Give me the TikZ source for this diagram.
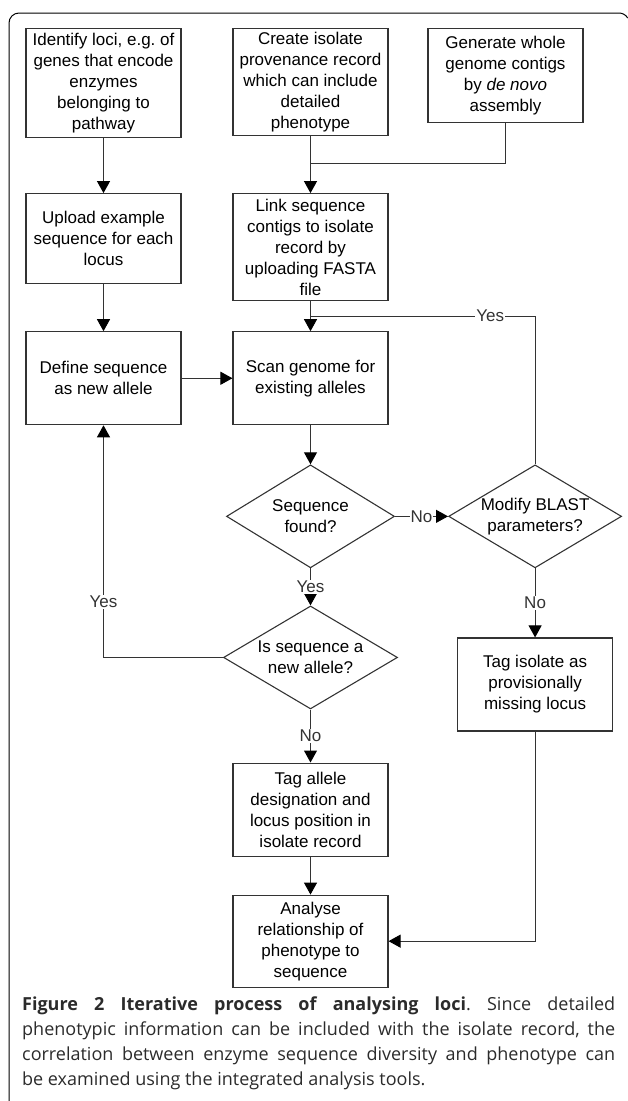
\documentclass[tikz,border=0pt]{standalone}
\usepackage{fontspec}
\setmainfont{Liberation Sans}
\newfontfamily\capfont{Open Sans}
\usetikzlibrary{arrows.meta,positioning,shapes.geometric,calc}
\definecolor{linegray}{HTML}{333333}
\definecolor{capgray}{HTML}{2B2B2B}
\frenchspacing
\tikzset{
  stepbox/.style={
    rectangle, draw=linegray, line width=1.1pt,
    minimum width=155pt, minimum height=#1,
    font=\fontsize{17}{21}\selectfont, align=center,
    inner sep=3pt
  },
  stepbox/.default=93pt,
  decision/.style={
    diamond, draw=linegray, line width=1.1pt, aspect=1.68,
    minimum width=#1, minimum height=103pt,
    font=\fontsize{17}{21}\selectfont, align=center,
    inner sep=0pt
  },
  decision/.default=173pt,
  flowarrow/.style={
    -{Triangle[length=12pt, width=13pt, color=black]}, line width=1pt, color=linegray
  },
  flowline/.style={
    line width=1pt, color=linegray
  },
  answer/.style={
    font=\fontsize{17}{21}\selectfont, fill=white, inner sep=1pt
  },
}

\begin{document}
\begin{tikzpicture}[x=1pt, y=1pt, node distance=40pt and 53pt]
  \useasboundingbox (0,0) rectangle (627,-1101);

  % frame of the figure
  \draw[line width=1pt] (9,-1101) -- (9,-23)
    arc[start angle=180, end angle=90, radius=10] -- (619,-13)
    arc[start angle=90, end angle=30, radius=10];

  % top row
  \node[stepbox=109pt, anchor=north] (identify) at (103.5,-28)
    {Identify loci, e.g. of\\genes that encode\\enzymes\\belonging to\\pathway};
  \node[stepbox=107pt, anchor=north] (create) at (310.5,-28)
    {Create isolate\\provenance record\\which can include\\detailed\\phenotype};
  \node[stepbox=94pt, anchor=north] (generate) at (505.5,-28)
    {Generate whole\\genome contigs\\by \textit{de novo}\\assembly};

  \node[stepbox=90pt, below=55pt of identify] (upload)
    {Upload example\\sequence for each\\locus};
  \node[stepbox=107pt, below=57pt of create] (link)
    {Link sequence\\contigs to isolate\\record by\\uploading FASTA\\file};
  \node[stepbox, below=47pt of upload] (define) {Define sequence\\as new allele};
  \node[stepbox, below=30pt of link] (scan) {Scan genome for\\existing alleles};

  % decisions
  \node[decision=168pt, below=39pt of scan] (found) {Sequence\\found?};
  \node[decision, right=53pt of found] (blast) {Modify BLAST\\parameters?};
  \node[decision=174pt, below=37pt of found] (newallele) {Is sequence a\\new allele?};

  \node[stepbox, below=69pt of blast] (tagiso)
    {Tag isolate as\\provisionally\\missing locus};
  \node[stepbox, below=53pt of newallele] (tagallele)
    {Tag allele\\designation and\\locus position in\\isolate record};
  \node[stepbox=92pt, below=38pt of tagallele] (analyse)
    {Analyse\\relationship of\\phenotype to\\sequence};

  \coordinate (merge) at ($(create.south)+(0,-27)$);
  \coordinate (retry) at ($(link.south)+(0,-15)$);

  % main flow
  \draw[flowarrow] (identify) -- (upload);
  \draw[flowline] (generate.south) |- (merge);
  \draw[flowarrow] (create) -- (link);
  \draw[flowarrow] (upload) -- (define);
  \draw[flowarrow] (link) -- (scan);
  \draw[flowarrow] (define) -- (scan);
  \draw[flowarrow] (scan) -- (found);
  \draw[flowarrow] (tagallele) -- (analyse);
  \draw[flowarrow] (tagiso) |- (analyse);

  % answers
  \draw[flowarrow] (found) -- node[answer] {No} (blast);
  \draw[flowline] (blast) |- node[answer, pos=0.6] {Yes} (retry);
  \draw[flowarrow] (found) -- node[answer] {Yes} (newallele);
  \draw[flowarrow] (newallele) -| node[answer, pos=0.62] {Yes} (define);
  \draw[flowarrow] (blast) -- node[answer] {No} (tagiso);
  \draw[flowarrow] (newallele) -- node[answer] {No} (tagallele);

  % caption
  \node[anchor=north west, text width=593pt, align=justify, inner sep=0pt,
        font=\capfont\fontsize{18}{25}\selectfont, text=capgray] (caption)
    at (22,-997)
    {\textbf{Figure 2 Iterative process of analysing loci}. Since detailed\linebreak
     phenotypic information can be included with the isolate record, the\linebreak
     correlation between enzyme sequence diversity and phenotype can\linebreak
     be examined using the integrated analysis tools.};
\end{tikzpicture}
\end{document}
